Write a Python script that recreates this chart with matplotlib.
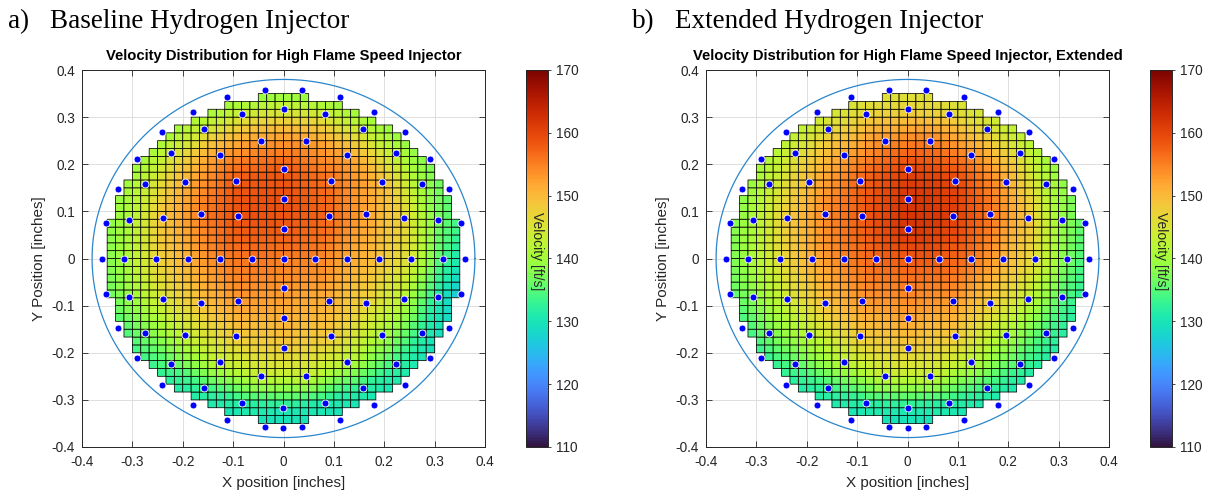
import numpy as np
import matplotlib.pyplot as plt
import matplotlib.tri as mtri

# probe layout: centre probe, six rings of equally spaced probes (first at +x,
# counter-clockwise) and one extra probe at the bottom of the outer ring
ring_radius = [0.0635, 0.127, 0.19, 0.254, 0.317, 0.36]
ring_count = [4, 8, 12, 18, 24, 30]
extra_radius, extra_angle = 0.36, 270.0
wall_radius = 0.38

# measured velocities [ft/s], baseline injector
base_center = 155
base_rings = [
    [155, 158, 156, 153],
    [152, 157, 159, 159, 155, 153, 151, 151],
    [149, 152, 156, 158, 158, 155, 151, 149, 148, 148, 148, 147],
    [145, 147, 150, 152, 153, 153, 153, 151, 149, 147, 145, 143, 143, 143, 143, 142, 141, 142],
    [134, 137, 140, 142, 143, 144, 144, 144, 144, 144, 143, 141,
     140, 139, 137, 135, 133, 132, 131, 131, 132, 133, 132, 131],
    [129, 133, 135, 137, 138, 138, 138, 137, 137, 138, 139, 139, 139, 139, 138,
     137, 136, 134, 133, 131, 130, 129, 129, 129, 129, 129, 130, 129, 128, 126],
]
base_extra = 129

# measured velocities [ft/s], extended injector
ext_center = 158
ext_rings = [
    [158, 162, 157, 155],
    [156, 161, 162, 158, 155, 153, 152, 153],
    [151, 156, 160, 160, 157, 154, 151, 149, 148, 148, 148, 148],
    [146, 149, 152, 154, 155, 154, 152, 150, 148, 146, 144, 142, 142, 143, 143, 142, 141, 143],
    [137, 139, 142, 145, 146, 147, 147, 147, 146, 145, 143, 141,
     140, 138, 137, 135, 133, 132, 131, 132, 133, 134, 134, 135],
    [133, 135, 137, 139, 141, 143, 144, 145, 145, 144, 143, 141, 140, 138, 137,
     136, 135, 133, 132, 131, 130, 129, 129, 129, 129, 129, 130, 131, 131, 132],
]
ext_extra = 129

panel_tag = ["a)", "b)"]
panel_name = ["Baseline Hydrogen Injector", "Extended Hydrogen Injector"]
plot_title = ["Velocity Distribution for High Flame Speed Injector",
              "Velocity Distribution for High Flame Speed Injector, Extended"]

vmin, vmax = 110, 170
ink = (0.15, 0.15, 0.15)
sans = ["Liberation Sans", "DejaVu Sans"]
serif = ["Liberation Serif", "DejaVu Serif"]
tick_text = ["-0.4", "-0.3", "-0.2", "-0.1", "0", "0.1", "0.2", "0.3", "0.4"]


def probe_points(center, rings, extra):
    xs, ys, vs = [0.0], [0.0], [center]
    for r, n, vals in zip(ring_radius, ring_count, rings):
        ang = np.deg2rad(np.arange(n) * 360.0 / n)
        xs += list(r * np.cos(ang))
        ys += list(r * np.sin(ang))
        vs += list(vals)
    a = np.deg2rad(extra_angle)
    xs.append(extra_radius * np.cos(a))
    ys.append(extra_radius * np.sin(a))
    vs.append(extra)
    return np.array(xs), np.array(ys), np.array(vs, dtype=float)


def draw_panel(ax, cax, center, rings, extra, title):
    px, py, pv = probe_points(center, rings, extra)

    edges = np.linspace(-0.35, 0.35, 43)
    mid = 0.5 * (edges[:-1] + edges[1:])
    xc, yc = np.meshgrid(mid, mid)
    tri = mtri.Triangulation(px, py)
    vel = mtri.LinearTriInterpolator(tri, pv)(xc, yc)
    outside = (xc / 0.352) ** 2 + (yc / 0.345) ** 2 > 1.0
    vel = np.ma.masked_where(outside | np.ma.getmaskarray(vel), vel)

    pc = ax.pcolor(edges, edges, vel, cmap="turbo", vmin=vmin, vmax=vmax,
                   edgecolors="k", linewidth=0.55, zorder=2)
    ax.plot(px, py, "o", color="b", markersize=5.0, markeredgecolor="white",
            markeredgewidth=0.6, zorder=3)
    t = np.linspace(0, 2 * np.pi, 400)
    ax.plot(wall_radius * np.cos(t), wall_radius * np.sin(t), color="#2a86cc",
            linewidth=0.9, zorder=3)

    ax.set_xlim(-0.4, 0.4)
    ax.set_ylim(-0.4, 0.4)
    ax.set_xticks(np.linspace(-0.4, 0.4, 9))
    ax.set_yticks(np.linspace(-0.4, 0.4, 9))
    ax.set_xticklabels(tick_text)
    ax.set_yticklabels(tick_text)
    ax.grid(True, color=(0.87, 0.87, 0.87), linewidth=0.7, zorder=0)
    ax.set_axisbelow(True)
    ax.tick_params(direction="in", length=4, width=0.6, colors=ink, labelsize=9.8,
                   top=True, right=True, labeltop=False, labelright=False)
    ax.tick_params(axis="x", pad=6)
    ax.tick_params(axis="y", pad=5)
    for lab in ax.get_xticklabels() + ax.get_yticklabels():
        lab.set_family(sans)
    for s in ax.spines.values():
        s.set_color(ink)
        s.set_linewidth(0.7)
    ax.set_xlabel("X position [inches]", fontsize=11, color=ink, family=sans, labelpad=5)
    ax.set_ylabel("Y Position [inches]", fontsize=11, color=ink, family=sans, labelpad=4)
    ax.set_title(title, fontsize=10.6, fontweight="bold", family=sans, pad=7)

    cb = plt.colorbar(pc, cax=cax, ticks=np.arange(vmin, vmax + 1, 10))
    cb.outline.set_edgecolor(ink)
    cb.outline.set_linewidth(0.7)
    cax.tick_params(direction="out", length=2.5, width=0.6, colors=ink, labelsize=9.8)
    for lab in cax.get_yticklabels():
        lab.set_family(sans)
    cax.text(0.5, 0.52, "Velocity [ft/s]", transform=cax.transAxes, rotation=-90,
             ha="center", va="center", fontsize=10, color=ink, family=sans)


W, H = 1210, 496
fig = plt.figure(figsize=(W / 100, H / 100), dpi=100)

ax_left = [82, 706]
cb_left = [526, 1150]
ax_top, ax_bottom = 70, 447
data = [(base_center, base_rings, base_extra), (ext_center, ext_rings, ext_extra)]
tag_x = [8, 632]
name_x = [50, 675]

for i in range(2):
    ax = fig.add_axes([ax_left[i] / W, 1 - ax_bottom / H, 403 / W, (ax_bottom - ax_top) / H])
    cax = fig.add_axes([cb_left[i] / W, 1 - ax_bottom / H, 22 / W, (ax_bottom - ax_top) / H])
    draw_panel(ax, cax, *data[i], plot_title[i])
    fig.text(tag_x[i] / W, 1 - 28 / H, panel_tag[i], fontsize=19.5, family=serif,
             va="baseline")
    fig.text(name_x[i] / W, 1 - 28 / H, panel_name[i], fontsize=19.5, family=serif,
             va="baseline")

fig.savefig("out.png", dpi=100)
